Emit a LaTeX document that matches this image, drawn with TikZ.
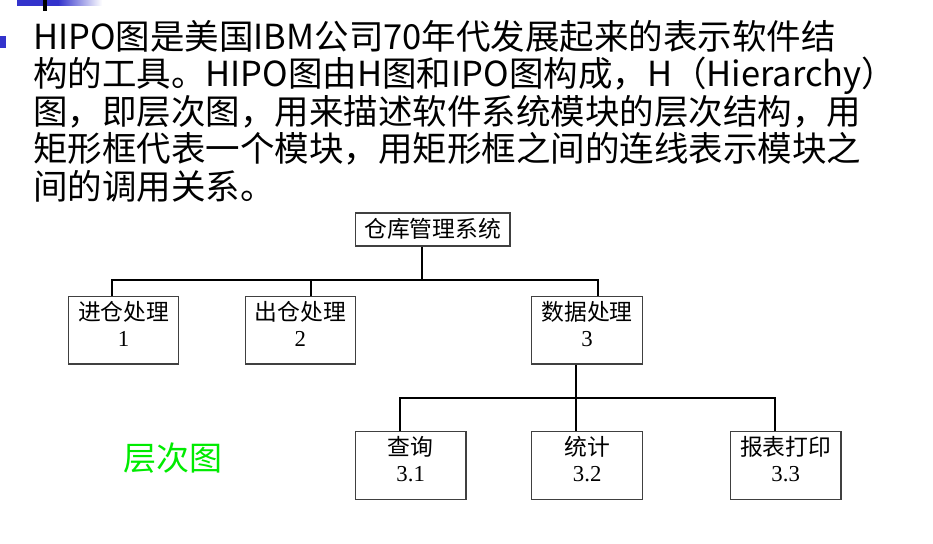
\documentclass[tikz,border=0pt]{standalone}
\usepackage{fontspec}
\setmainfont{Noto Sans CJK SC}
\newfontfamily\numfont{Liberation Serif}
\usetikzlibrary{calc}
\definecolor{slideblue}{RGB}{51,51,204}
\definecolor{leafgreen}{RGB}{0,235,0}
\definecolor{framegray}{RGB}{64,64,64}
\begin{document}
\begin{tikzpicture}[x=1pt,y=-1pt,
  body/.style={anchor=base west, inner sep=0pt, font=\fontsize{34.5}{37.5}\selectfont},
  module/.style={draw=framegray, line width=1.1pt, inner sep=0pt, fill=white,
                 minimum width=110.5pt, minimum height=67.5pt},
  modname/.style={anchor=base, inner sep=0pt, font=\fontsize{22.8}{26}\selectfont},
  modnum/.style={anchor=base, inner sep=0pt, font=\numfont\fontsize{22.8}{26}\selectfont},
  link/.style={line width=2pt, draw=black}]
\useasboundingbox (0,0) rectangle (933,543);

% slide ornaments: title bar, tick and bullet
\fill[slideblue] (17,0) rectangle (58,5.7);
\shade[left color=slideblue, right color=white] (58,0) rectangle (102,5.7);
\fill[black] (42.7,0) rectangle (46.5,11.5);
\fill[slideblue] (0,36.5) rectangle (5.7,48.3);

% paragraph
\node[body] (t1) at (33,49)    {HIPO图是美国IBM公司70年代发展起来的表示软件结};
\node[body] (t2) at (33,86.5)  {构的工具。HIPO图由H图和IPO图构成，H（Hierarchy）};
\node[body] (t3) at (33,124)   {图，即层次图，用来描述软件系统模块的层次结构，用};
\node[body] (t4) at (33,161.5) {矩形框代表一个模块，用矩形框之间的连线表示模块之};
\node[body] (t5) at (33,199)   {间的调用关系。};

% module boxes
\node[module, minimum width=154.5pt, minimum height=33pt] (root) at (432.75,229.5) {};
\node[module] (p1) at (123.65,330.25) {};
\node[module] (p2) at (300.35,330.25) {};
\node[module] (p3) at (587,330.25) {};
\node[module] (q1) at (410.7,465.35) {};
\node[module] (q2) at (587.15,465.35) {};
\node[module] (q3) at (785.7,465.35) {};

% box captions
\node[modname] (rootname) at ($(root.north)+(0,25)$) {仓库管理系统};
\node[modname] (p1name) at ($(p1.north)+(0,24.5)$) {进仓处理};
\node[modnum]  (p1num)  at ($(p1.north)+(0,50.5)$) {1};
\node[modname] (p2name) at ($(p2.north)+(0,24.5)$) {出仓处理};
\node[modnum]  (p2num)  at ($(p2.north)+(0,50.5)$) {2};
\node[modname] (p3name) at ($(p3.north)+(0,24.5)$) {数据处理};
\node[modnum]  (p3num)  at ($(p3.north)+(0,50.5)$) {3};
\node[modname] (q1name) at ($(q1.north)+(0,24.5)$) {查询};
\node[modnum]  (q1num)  at ($(q1.north)+(0,50.5)$) {3.1};
\node[modname] (q2name) at ($(q2.north)+(0,24.5)$) {统计};
\node[modnum]  (q2num)  at ($(q2.north)+(0,50.5)$) {3.2};
\node[modname] (q3name) at ($(q3.north)+(0,24.5)$) {报表打印};
\node[modnum]  (q3num)  at ($(q3.north)+(0,50.5)$) {3.3};

% call structure, first level
\coordinate (j0) at (421.7,279.5);
\coordinate (j1) at (112.3,279.5);
\coordinate (j2) at (310.7,279.5);
\coordinate (j3) at (597.7,279.5);
\draw[link] (root.south -| j0) -- (j0);
\draw[link] (p1.north -| j1) -- (j1) -- (j3) -- (p3.north -| j3);
\draw[link] (j2) -- (p2.north -| j2);

% call structure, second level
\coordinate (k0) at (575.7,397.7);
\coordinate (k1) at (400,397.7);
\coordinate (k3) at (775,397.7);
\draw[link] (p3.south -| k0) -- (q2.north -| k0);
\draw[link] (q1.north -| k1) -- (k1) -- (k3) -- (q3.north -| k3);

% caption
\node[anchor=base west, inner sep=0pt, text=leafgreen,
      font=\fontsize{33}{36}\selectfont] (cap) at (123,470) {层次图};
\end{tikzpicture}
\end{document}
